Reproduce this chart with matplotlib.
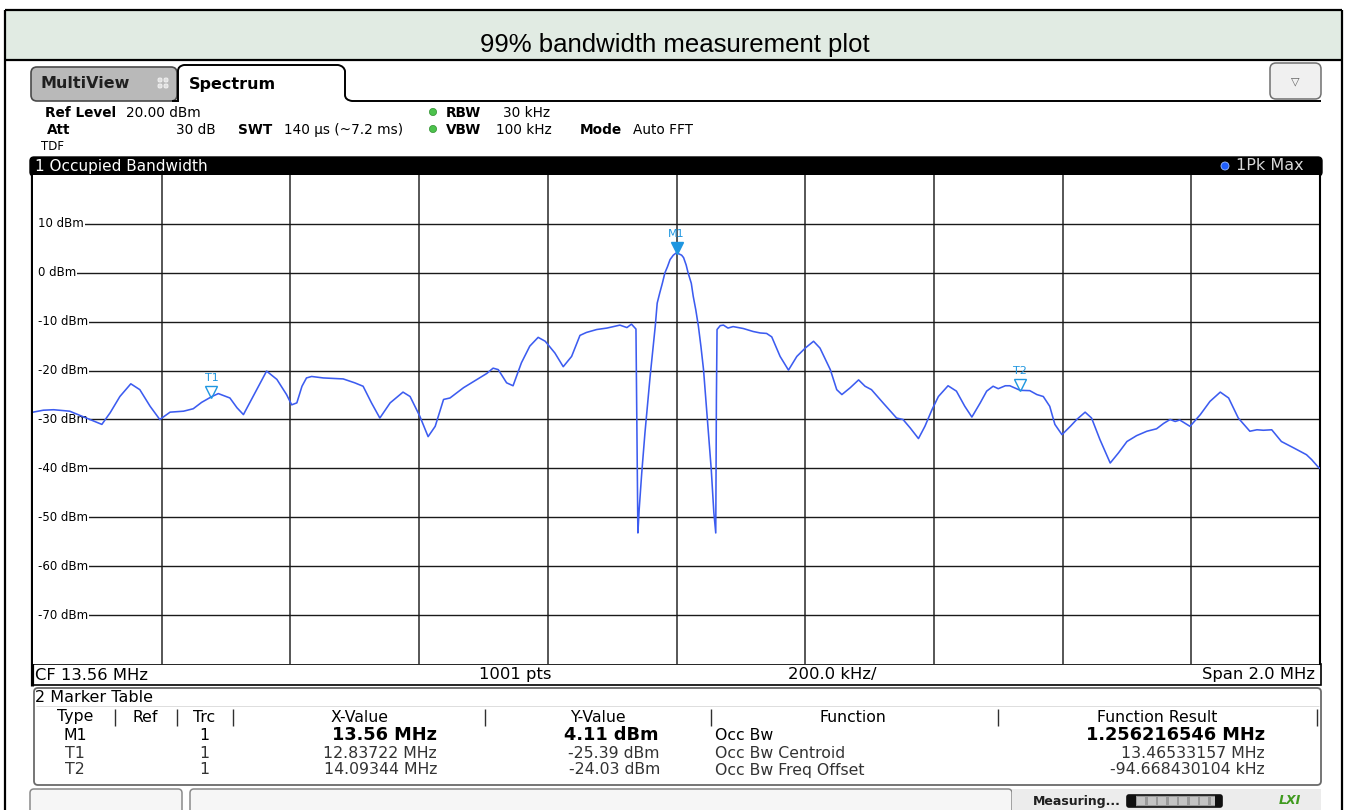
import matplotlib
matplotlib.use('Agg')
import matplotlib.pyplot as plt
from matplotlib.patches import Rectangle, FancyBboxPatch, Circle, PathPatch
from matplotlib.path import Path
from matplotlib.transforms import offset_copy, blended_transform_factory

# ---------------- data ----------------
freq_mhz = [12.560, 12.576, 12.592, 12.617, 12.643, 12.656, 12.667, 12.680, 12.695, 12.712,
            12.726, 12.742, 12.757, 12.773, 12.794, 12.809, 12.822, 12.838, 12.848, 12.866,
            12.877, 12.887, 12.902, 12.923, 12.939, 12.954, 12.962, 12.970, 12.978, 12.985,
            12.993, 13.011, 13.042, 13.060, 13.073, 13.086, 13.099, 13.115, 13.135, 13.146,
            13.161, 13.174, 13.185, 13.198, 13.208, 13.229, 13.250, 13.265, 13.275, 13.283,
            13.296, 13.306, 13.319, 13.332, 13.345, 13.356, 13.371, 13.384, 13.397, 13.410,
            13.420, 13.436, 13.452, 13.472, 13.483, 13.490, 13.497, 13.498, 13.500, 13.502,
            13.506, 13.511, 13.519, 13.527, 13.530, 13.534, 13.538, 13.542, 13.546, 13.550,
            13.555, 13.560, 13.568, 13.571, 13.575, 13.578, 13.583,
            13.586, 13.590, 13.594, 13.598, 13.602, 13.608, 13.614, 13.618, 13.621, 13.622,
            13.623, 13.628,
            13.633, 13.640, 13.648, 13.664, 13.679, 13.690, 13.700, 13.708, 13.721, 13.734,
            13.747, 13.760, 13.773, 13.783, 13.799, 13.809, 13.817, 13.830, 13.843, 13.853,
            13.863, 13.881, 13.902, 13.912, 13.923, 13.936, 13.946, 13.957, 13.967, 13.982,
            13.995, 14.008, 14.019, 14.032, 14.042, 14.052, 14.060, 14.071, 14.078, 14.094,
            14.109, 14.120, 14.130, 14.140, 14.148, 14.159, 14.172, 14.182, 14.195, 14.205,
            14.218, 14.234, 14.247, 14.260, 14.275, 14.291, 14.306, 14.317, 14.327, 14.335,
            14.342, 14.358, 14.374, 14.389, 14.405, 14.418, 14.433, 14.451, 14.462, 14.472,
            14.485, 14.500, 14.519, 14.539, 14.547, 14.557, 14.560]
level_dbm = [-28.5, -28.1, -28.0, -28.3, -29.7, -30.4, -31.0, -28.6, -25.3, -22.7,
             -23.9, -27.3, -30.0, -28.5, -28.3, -27.8, -26.5, -25.3, -24.7, -25.6,
             -27.6, -29.0, -25.3, -20.1, -21.8, -24.9, -27.0, -26.6, -23.2, -21.5,
             -21.2, -21.5, -21.7, -22.5, -23.2, -26.6, -29.7, -26.6, -24.4, -25.3,
             -29.3, -33.5, -31.4, -25.9, -25.6, -23.5, -21.8, -20.6, -19.5, -19.8,
             -22.5, -23.1, -18.4, -15.0, -13.2, -14.0, -16.4, -19.2, -17.1, -12.8,
             -12.2, -11.6, -11.3, -10.7, -11.2, -10.5, -11.5, -26.0, -53.2, -48.4,
             -40.9, -32.7, -21.2, -10.9, -6.2, -4.1, -2.15, 0.0, 1.25, 2.7,
             3.6, 4.11, 3.6, 3.1, 1.6, 0.0, -2.15,
             -4.8, -7.6, -10.9, -15.1, -19.8, -30.0, -40.2, -49.0, -53.2, -26.0,
             -11.6, -10.8,
             -10.7, -11.3, -11.0, -11.4, -12.0, -12.3, -12.4, -13.1, -17.1, -19.9,
             -17.1, -15.4, -14.0, -15.4, -19.8, -23.9, -24.9, -23.5, -21.9, -23.2,
             -23.9, -26.6, -29.7, -30.0, -31.7, -33.9, -31.4, -28.0, -25.3, -23.1,
             -24.2, -27.3, -29.5, -26.6, -24.2, -23.2, -23.7, -23.1, -23.1, -24.03,
             -24.1, -24.9, -25.3, -27.3, -31.0, -33.1, -31.4, -30.0, -28.5, -29.7,
             -34.1, -38.9, -36.8, -34.5, -33.3, -32.4, -31.9, -30.8, -30.0, -30.4,
             -30.1, -31.4, -29.0, -26.3, -24.4, -25.6, -29.7, -32.4, -32.1, -32.2,
             -32.1, -34.5, -35.8, -37.2, -38.2, -39.7, -40.0]

level_ticks_dbm = [10, 0, -10, -20, -30, -40, -50, -60, -70]
center_mhz = 13.56
span_mhz = 2.0

marker_names = ['M1', 'T1', 'T2']
marker_freq_mhz = [13.56, 12.83722, 14.09344]
marker_level_dbm = [4.11, -25.39, -24.03]
marker_x_text = ['13.56 MHz', '12.83722 MHz', '14.09344 MHz']
marker_y_text = ['4.11 dBm', '-25.39 dBm', '-24.03 dBm']
function_names = ['Occ Bw', 'Occ Bw Centroid', 'Occ Bw Freq Offset']
function_results = ['1.256216546 MHz', '13.46533157 MHz', '-94.668430104 kHz']

# ---------------- figure ----------------
W, H = 1351, 810
fig = plt.figure(figsize=(W / 100, H / 100), dpi=100)
bg = fig.add_axes([0, 0, 1, 1])
bg.set_xlim(0, W)
bg.set_ylim(H, 0)
bg.axis('off')

FONT = 'DejaVu Sans'
BLUE_M = '#1e96e0'

def txt(x, y, s, size=10, ha='left', va='center', weight='normal', color='black', fam=FONT, **kw):
    bg.text(x, y, s, fontsize=size, ha=ha, va=va, fontweight=weight, color=color,
            family=fam, **kw)

def hline(x0, x1, y, lw=1.2, color='black'):
    bg.plot([x0, x1], [y, y], color=color, lw=lw, solid_capstyle='butt')

def vline(x, y0, y1, lw=1.2, color='black'):
    bg.plot([x, x], [y0, y1], color=color, lw=lw, solid_capstyle='butt')

# outer frame and title band
bg.add_patch(Rectangle((5, 10), 1337, 50, facecolor='#e1ebe3', edgecolor='none'))
hline(5, 1342, 10, lw=1.6)
hline(5, 1342, 60, lw=1.6)
vline(5, 10, 810, lw=1.6)
vline(1342, 10, 810, lw=1.6)
txt(675, 45, '99% bandwidth measurement plot', size=18.5, ha='center', fam='Liberation Sans')

# tabs
bg.add_patch(FancyBboxPatch((31, 67), 146, 34, boxstyle='round,pad=0,rounding_size=6',
                            facecolor='#b9b9b9', edgecolor='#4a4a4a', lw=1.2))
txt(40, 84, 'MultiView', size=11.5, weight='bold', color='#202020')
for dx in (0, 6):
    for dy in (0, 6):
        bg.add_patch(FancyBboxPatch((158 + dx, 78 + dy), 4, 4,
                                    boxstyle='round,pad=0,rounding_size=1.5',
                                    facecolor='#e0e0e0', edgecolor='#f4f4f4', lw=0.6))
verts = [(172, 101), (178, 101), (178, 71), (178, 66), (184, 65), (338, 65), (344, 66),
         (345, 71), (345, 95), (345, 100), (352, 101), (1321, 101)]
codes = [Path.MOVETO, Path.LINETO, Path.LINETO, Path.CURVE3, Path.CURVE3, Path.LINETO,
         Path.CURVE3, Path.CURVE3, Path.LINETO, Path.CURVE3, Path.CURVE3, Path.LINETO]
bg.add_patch(Rectangle((178, 65), 167, 37, facecolor='white', edgecolor='none'))
bg.add_patch(PathPatch(Path(verts, codes), facecolor='none', edgecolor='black', lw=1.4))
txt(189, 84, 'Spectrum', size=11.5, weight='bold')
bg.add_patch(FancyBboxPatch((1270, 63), 51, 36, boxstyle='round,pad=0,rounding_size=6',
                            facecolor='#f0f0f0', edgecolor='#707070', lw=1.1))
txt(1295, 81, '▽', size=8, ha='center', color='#606060')

# setting lines
S = 9.8
txt(45, 113, 'Ref Level', size=S, weight='bold')
txt(126, 113, '20.00 dBm', size=S)
txt(47, 130, 'Att', size=S, weight='bold')
txt(216, 130, '30 dB', size=S, ha='right')
txt(238, 130, 'SWT', size=S, weight='bold')
txt(284, 130, '140 µs (~7.2 ms)', size=S)
for yy in (112, 129):
    bg.add_patch(Circle((433, yy), 3.6, facecolor='#4cc24c', edgecolor='#2f8f2f', lw=0.5))
txt(446, 113, 'RBW', size=S, weight='bold')
txt(503, 113, '30 kHz', size=S)
txt(446, 130, 'VBW', size=S, weight='bold')
txt(496, 130, '100 kHz', size=S)
txt(580, 130, 'Mode', size=S, weight='bold')
txt(633, 130, 'Auto FFT', size=S)
txt(41, 147, 'TDF', size=8.5)

# black header of the diagram
bg.add_patch(FancyBboxPatch((30, 157), 1292, 19, boxstyle='round,pad=0,rounding_size=4',
                            facecolor='black', edgecolor='black', lw=1))
txt(35, 166, '1 Occupied Bandwidth', size=11, color='white')
bg.add_patch(Circle((1225, 166), 4, facecolor='#2060ff', edgecolor='#a0c0ff', lw=0.6))
txt(1304, 166, '1Pk Max', size=11.5, ha='right', color='#d8d8d8')

# ---------------- main diagram ----------------
ax = fig.add_axes([33 / W, 1 - 664 / H, 1287 / W, 489 / H])
ax.set_facecolor('white')
x_lo = center_mhz - span_mhz / 2
x_hi = center_mhz + span_mhz / 2
ax.set_xlim(x_lo, x_hi)
ax.set_ylim(-80, 20)
ax.set_xticks([x_lo + span_mhz / 10 * i for i in range(1, 10)])
ax.set_yticks(level_ticks_dbm)
ax.tick_params(length=0, labelleft=False, labelbottom=False)
ax.grid(True, axis='y', color='#1a1a1a', lw=1.0, zorder=1)
ax.grid(True, axis='x', color='#3a3a3a', lw=1.2, zorder=1)
ax.set_axisbelow(True)
for side in ('top', 'bottom', 'left'):
    ax.spines[side].set_visible(False)
ax.spines['right'].set_linewidth(1.5)

bt = blended_transform_factory(ax.transAxes, ax.transData)
for lv in level_ticks_dbm:
    ax.add_patch(Rectangle((0, lv - 0.6), 0.006, 1.2, transform=bt, facecolor='white',
                           edgecolor='none', zorder=1.5))
    ax.text(0.0042, lv, f'{lv} dBm', transform=bt, fontsize=8.5, family=FONT,
            ha='left', va='center', zorder=2,
            bbox=dict(facecolor='white', edgecolor='none', pad=0.6))

ax.plot(freq_mhz, level_dbm, color='#3c5cf0', lw=1.15, zorder=3)

tri_tr = offset_copy(ax.transData, fig=fig, x=0, y=5, units='dots')
lab_tr = offset_copy(ax.transData, fig=fig, x=0, y=19, units='dots')
for name, f, lv in zip(marker_names, marker_freq_mhz, marker_level_dbm):
    if name.startswith('M'):
        ax.plot([f], [lv], marker='v', ms=8, color=BLUE_M, transform=tri_tr, zorder=4)
    else:
        ax.plot([f], [lv], marker='v', ms=8, mfc='none', mec=BLUE_M, mew=1.0,
                transform=tri_tr, zorder=4)
    ax.text(f, lv, name, transform=lab_tr, ha='center', va='center', fontsize=8,
            color=BLUE_M, family=FONT, zorder=4)

# marker info (top right)
mi = marker_names.index('M1')
txt(1185, 188, 'M1[1]', size=10.5, ha='right', color=BLUE_M)
txt(1315, 188, f'{marker_level_dbm[mi]:.2f} dBm', size=10.5, ha='right', color=BLUE_M)
txt(1315, 210, f'{marker_freq_mhz[mi]:.5f} MHz', size=10.5, ha='right', color=BLUE_M)

# bottom info bar
bg.add_patch(Rectangle((33, 664), 1288, 21, facecolor='white', edgecolor='black', lw=1.2))
vline(31.5, 157, 686, lw=2.3)
txt(35, 675, f'CF {center_mhz:.2f} MHz', size=11.8)
txt(515, 675, '1001 pts', size=11.8, ha='center')
txt(832, 675, f'{span_mhz / 10 * 1000:.1f} kHz/', size=11.8, ha='center')
txt(1315, 675, f'Span {span_mhz:.1f} MHz', size=11.8, ha='right')

# marker table
bg.add_patch(FancyBboxPatch((34, 688), 1287, 97, boxstyle='round,pad=0,rounding_size=4',
                            facecolor='white', edgecolor='#6a6a6a', lw=1.3))
hline(36, 1319, 706, lw=0.6, color='#d8d8d8')
txt(35, 697, '2 Marker Table', size=11.5)
TS = 11.3
hy = 717
for s, xc in (('Type', 75), ('Ref', 145), ('Trc', 204), ('X-Value', 360), ('Y-Value', 598),
              ('Function', 853), ('Function Result', 1157)):
    txt(xc, hy, s, size=TS, ha='center')
for xs in (115, 177, 233, 485, 711, 998, 1317):
    vline(xs, 709, 726, lw=1.0, color='#303030')
row_y = [735, 753, 770]
for i, name in enumerate(marker_names):
    y = row_y[i]
    bold = (i == 0)
    col = 'black' if bold else '#333333'
    txt(75, y, name, size=TS, ha='center', color=col)
    txt(204, y, '1', size=TS, ha='center', color=col)
    if bold:
        txt(437, y, marker_x_text[i], size=12.8, ha='right', weight='bold')
        txt(658, y, marker_y_text[i], size=12.8, ha='right', weight='bold')
        txt(1265, y, function_results[i], size=12.8, ha='right', weight='bold')
    else:
        txt(437, y, marker_x_text[i], size=TS, ha='right', color=col)
        txt(660, y, marker_y_text[i], size=TS, ha='right', color=col)
        txt(1265, y, function_results[i], size=TS, ha='right', color=col)
    txt(715, y, function_names[i], size=TS, color=col)

# status bar
bg.add_patch(FancyBboxPatch((30, 789), 152, 25, boxstyle='round,pad=0,rounding_size=4',
                            facecolor='#f6f6f6', edgecolor='#8a8a8a', lw=1.1))
bg.add_patch(FancyBboxPatch((190, 789), 822, 25, boxstyle='round,pad=0,rounding_size=4',
                            facecolor='#f6f6f6', edgecolor='#8a8a8a', lw=1.1))
bg.add_patch(Rectangle((1012, 789), 309, 21, facecolor='#ececec', edgecolor='none'))
txt(1033, 801, 'Measuring...', size=9, weight='bold', color='#202020')
bg.add_patch(FancyBboxPatch((1127, 795), 95, 12, boxstyle='round,pad=0,rounding_size=2',
                            facecolor='#9a9a9a', edgecolor='#101010', lw=1.2))
for k in range(8):
    bg.add_patch(Rectangle((1137 + k * 10.5, 797), 8, 8, facecolor='#c4c4c4',
                           edgecolor='none'))
bg.add_patch(Rectangle((1127, 795), 9, 12, facecolor='#101010', edgecolor='none'))
bg.add_patch(Rectangle((1215, 795), 7, 12, facecolor='#101010', edgecolor='none'))
txt(1290, 800, 'LXI', size=9, weight='bold', style='italic', color='#3f9a1e', ha='center')

fig.savefig('out.png', dpi=100)
